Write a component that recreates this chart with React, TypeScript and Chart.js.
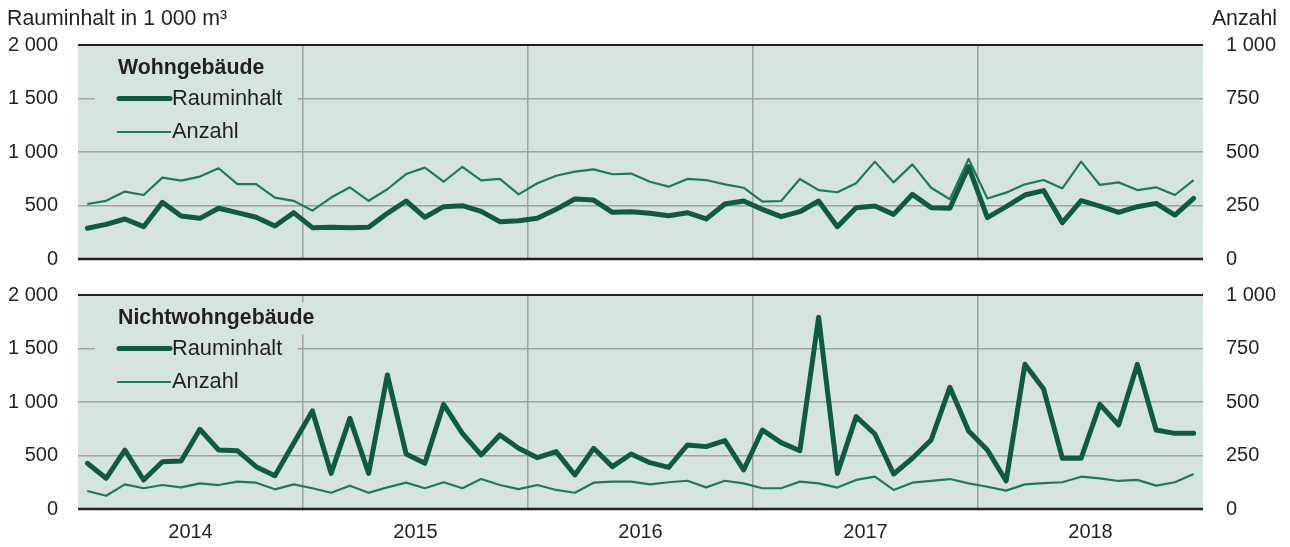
import React, { useEffect, useRef } from "react";
import { Chart, registerables } from "chart.js";

Chart.register(...registerables);

const yearLabels = ["2014", "2015", "2016", "2017", "2018"];
const leftAxisTitle = "Rauminhalt in 1 000 m³";
const rightAxisTitle = "Anzahl";
const seriesNames = ["Rauminhalt", "Anzahl"];

const wohnRauminhalt = [
  287, 324, 374, 302, 530, 402, 380, 474, 433, 390, 308, 433,
  293, 296, 293, 296, 427, 542, 390, 489, 498, 445, 349, 358,
  380, 464, 561, 551, 436, 442, 427, 405, 433, 374, 514, 542,
  464, 396, 442, 542, 302, 480, 495, 417, 604, 480, 474, 863,
  386, 489, 598, 639, 339, 545, 495, 436, 489, 520, 411, 567,
];
const wohnAnzahl = [
  257, 272, 315, 299, 380, 366, 385, 424, 350, 350, 287, 272,
  226, 287, 335, 272, 326, 397, 427, 361, 431, 367, 374, 302,
  354, 389, 408, 419, 396, 399, 361, 338, 374, 369, 349, 333,
  268, 271, 374, 322, 312, 354, 455, 358, 442, 333, 279, 467,
  283, 310, 349, 369, 330, 455, 346, 358, 322, 335, 299, 369,
];
const nichtwohnRauminhalt = [
  427, 287, 551, 271, 442, 449, 745, 551, 545, 396, 311, 614,
  916, 333, 847, 333, 1252, 514, 427, 978, 707, 505, 692, 567,
  480, 536, 318, 567, 396, 514, 433, 389, 598, 583, 639, 365,
  738, 620, 545, 1792, 333, 863, 701, 327, 474, 645, 1137, 729,
  551, 262, 1352, 1121, 474, 474, 978, 785, 1352, 738, 707, 707,
];
const nichtwohnAnzahl = [
  84, 62, 115, 97, 112, 101, 120, 112, 128, 123, 92, 115,
  97, 76, 109, 76, 101, 123, 97, 125, 97, 140, 112, 93,
  112, 89, 76, 123, 128, 128, 115, 125, 132, 101, 132, 120,
  97, 97, 128, 120, 100, 136, 151, 89, 123, 131, 140, 120,
  104, 86, 115, 121, 125, 151, 143, 131, 136, 109, 125, 164,
];

const FONT = '"Liberation Sans", Arial, Helvetica, sans-serif';
const BG = "#d5e4de";
const THICK = "#0f5a45";
const THIN = "#1e7a5c";
const GRID = "#a0a2a1";
const TEXT = "#231f20";

function fmt(v: number) {
  return String(v).replace(/\B(?=(\d{3})+(?!\d))/g, " ");
}

type PanelProps = {
  title: string;
  rauminhalt: number[];
  anzahl: number[];
  top: number;
  height: number;
  padTop: number;
  xAxisHeight: number;
  showXLabels: boolean;
  showTitles: boolean;
};

function Panel(p: PanelProps) {
  const ref = useRef<HTMLCanvasElement>(null);
  useEffect(() => {
    const canvas = ref.current!;
    const n = p.rauminhalt.length;
    const tickVals: number[] = [];
    for (let k = 0; k <= yearLabels.length; k++) {
      tickVals.push(k * 12 - 0.5);
      if (k < yearLabels.length) tickVals.push(k * 12 + 5.5);
    }
    const isBoundary = (v: number) => Math.abs(((v + 0.5) % 12)) < 1e-6;

    const panelPlugin = {
      id: "panelPlugin",
      beforeDraw(chart: any) {
        const { ctx, chartArea: a } = chart;
        ctx.save();
        ctx.fillStyle = BG;
        ctx.fillRect(a.left, a.top, a.right - a.left, a.bottom - a.top);
        ctx.restore();
      },
      beforeDatasetsDraw(chart: any) {
        const { ctx, chartArea: a } = chart;
        ctx.save();
        const titleY = a.top + 23.5;
        const row1 = a.top + 53.5;
        const row2 = a.top + 87;
        ctx.font = `bold 21.3px ${FONT}`;
        const tw = ctx.measureText(p.title).width;
        ctx.fillStyle = BG;
        ctx.fillRect(95, titleY - 16, 118 + tw + 4 - 95, 32);
        ctx.fillRect(95, row1 - 16, 298 - 95, 32);
        ctx.fillRect(95, row2 - 16, 298 - 95, 32);
        ctx.fillStyle = TEXT;
        ctx.textBaseline = "middle";
        ctx.textAlign = "left";
        ctx.fillText(p.title, 118, titleY);
        ctx.font = `21.8px ${FONT}`;
        ctx.lineCap = "round";
        ctx.strokeStyle = THICK;
        ctx.lineWidth = 5;
        ctx.beginPath();
        ctx.moveTo(119, row1);
        ctx.lineTo(170, row1);
        ctx.stroke();
        ctx.strokeStyle = THIN;
        ctx.lineWidth = 2.2;
        ctx.lineCap = "butt";
        ctx.beginPath();
        ctx.moveTo(117, row2);
        ctx.lineTo(171, row2);
        ctx.stroke();
        ctx.fillStyle = TEXT;
        ctx.fillText(seriesNames[0], 172, row1);
        ctx.fillText(seriesNames[1], 172, row2);
        ctx.restore();
      },
      afterDatasetsDraw(chart: any) {
        const { ctx, chartArea: a } = chart;
        ctx.save();
        ctx.strokeStyle = "#231f20";
        ctx.lineWidth = 2;
        ctx.beginPath();
        ctx.moveTo(a.left, a.top);
        ctx.lineTo(a.right, a.top);
        ctx.stroke();
        ctx.lineWidth = 2.5;
        ctx.beginPath();
        ctx.moveTo(a.left, a.bottom);
        ctx.lineTo(a.right, a.bottom);
        ctx.stroke();
        ctx.restore();
      },
      afterDraw(chart: any) {
        if (!p.showTitles) return;
        const { ctx } = chart;
        ctx.save();
        ctx.fillStyle = TEXT;
        ctx.font = `21.3px ${FONT}`;
        ctx.textBaseline = "middle";
        ctx.textAlign = "left";
        ctx.fillText(leftAxisTitle, 7, 19);
        ctx.textAlign = "right";
        ctx.fillText(rightAxisTitle, 1277, 19);
        ctx.restore();
      },
    };

    const zeroVPad = (scale: any) => {
      scale.paddingTop = 0;
      scale.paddingBottom = 0;
    };

    const chart = new Chart(canvas, {
      type: "line",
      data: {
        datasets: [
          {
            label: seriesNames[0],
            data: p.rauminhalt.map((v, i) => ({ x: i, y: v })),
            borderColor: THICK,
            borderWidth: 5,
            borderJoinStyle: "round",
            borderCapStyle: "round",
            pointRadius: 0,
            tension: 0,
            yAxisID: "y",
          },
          {
            label: seriesNames[1],
            data: p.anzahl.map((v, i) => ({ x: i, y: v })),
            borderColor: THIN,
            borderWidth: 2.2,
            borderJoinStyle: "round",
            pointRadius: 0,
            tension: 0,
            yAxisID: "y1",
          },
        ],
      },
      options: {
        animation: false,
        responsive: false,
        devicePixelRatio: 1,
        layout: { padding: { top: p.padTop, left: 0, right: 0, bottom: 0 } },
        plugins: { legend: { display: false }, tooltip: { enabled: false } },
        scales: {
          x: {
            type: "linear",
            min: -0.5,
            max: n - 0.5,
            afterBuildTicks: (scale: any) => {
              scale.ticks = tickVals.map((v) => ({ value: v }));
            },
            afterFit: (scale: any) => {
              scale.height = p.xAxisHeight;
              scale.paddingLeft = 0;
              scale.paddingRight = 0;
            },
            grid: {
              drawTicks: false,
              lineWidth: 1.5,
              color: (ctx: any) => {
                const v = ctx.tick ? ctx.tick.value : 0;
                if (v <= -0.5 || v >= n - 0.5) return "rgba(0,0,0,0)";
                return isBoundary(v) ? GRID : "rgba(0,0,0,0)";
              },
            },
            border: { display: false },
            ticks: {
              display: p.showXLabels,
              autoSkip: false,
              maxRotation: 0,
              padding: 11,
              color: TEXT,
              font: { family: FONT, size: 20 },
              callback: (v: any) => {
                const val = Number(v);
                if (isBoundary(val)) return "";
                const idx = Math.round((val - 5.5) / 12);
                return yearLabels[idx] ?? "";
              },
            },
          },
          y: {
            position: "left",
            min: 0,
            max: 2000,
            afterFit: (scale: any) => {
              scale.width = 78;
              zeroVPad(scale);
            },
            grid: {
              drawTicks: false,
              lineWidth: 1.5,
              color: (ctx: any) => {
                const v = ctx.tick ? ctx.tick.value : 0;
                return v === 0 || v === 2000 ? "rgba(0,0,0,0)" : GRID;
              },
            },
            border: { display: false },
            ticks: {
              stepSize: 500,
              padding: 20,
              color: TEXT,
              font: { family: FONT, size: 20 },
              callback: (v: any) => fmt(Number(v)),
            },
          },
          y1: {
            position: "right",
            min: 0,
            max: 1000,
            afterFit: (scale: any) => {
              scale.width = 87;
              zeroVPad(scale);
            },
            grid: { display: false, drawTicks: false },
            border: { display: false },
            ticks: {
              stepSize: 250,
              padding: 23,
              color: TEXT,
              font: { family: FONT, size: 20 },
              callback: (v: any) => fmt(Number(v)),
            },
          },
        },
      },
      plugins: [panelPlugin],
    } as any);
    return () => chart.destroy();
  }, []);

  return (
    <canvas
      ref={ref}
      width={1290}
      height={p.height}
      style={{ position: "absolute", left: 0, top: p.top, width: 1290, height: p.height }}
    />
  );
}

export default function App() {
  return (
    <div style={{ position: "fixed", left: 0, top: 0, width: 1290, height: 547, background: "#fff" }}>
      <Panel
        title="Wohngebäude"
        rauminhalt={wohnRauminhalt}
        anzahl={wohnAnzahl}
        top={0}
        height={277}
        padTop={45}
        xAxisHeight={18}
        showXLabels={false}
        showTitles={true}
      />
      <Panel
        title="Nichtwohngebäude"
        rauminhalt={nichtwohnRauminhalt}
        anzahl={nichtwohnAnzahl}
        top={277}
        height={270}
        padTop={18}
        xAxisHeight={38}
        showXLabels={true}
        showTitles={false}
      />
    </div>
  );
}
